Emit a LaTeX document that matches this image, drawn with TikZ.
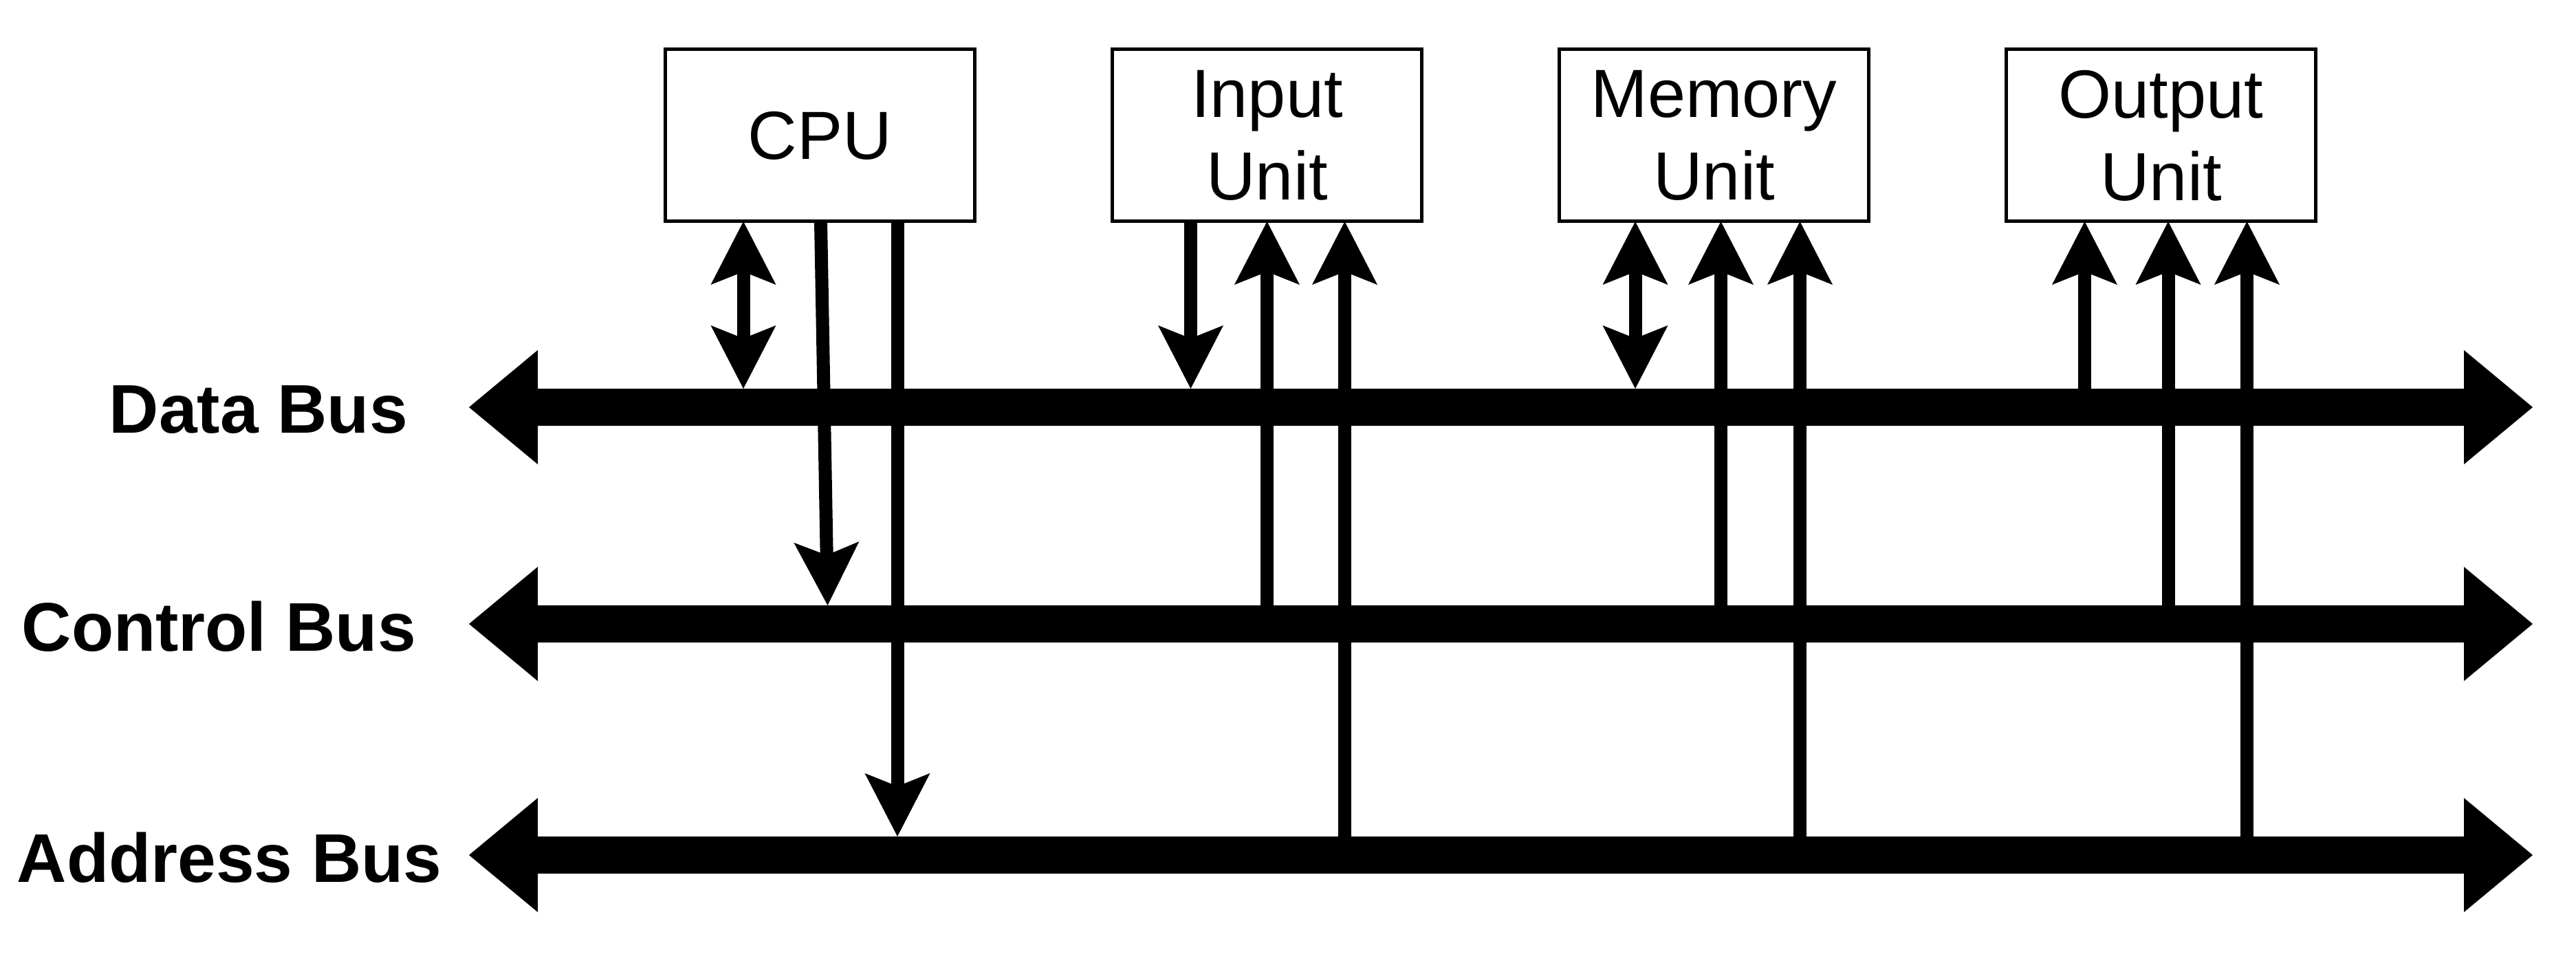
\documentclass[tikz,border=0pt]{standalone}
\usepackage{fontspec}
\setmainfont{Liberation Sans}
\usetikzlibrary{positioning,calc,arrows.meta}

\tikzset{
  unit/.style={draw, line width=0.05cm, outer sep=0pt, inner sep=0pt,
    minimum width=4.5cm, minimum height=2.5cm, align=center,
    font=\fontsize{28.2}{34.1}\selectfont},
  link/.style={line width=0.19cm,
    >={Stealth[length=9.2mm, width=9.5mm, inset=1.9mm, line width=0pt]}},
  bus/.style={line width=0.54cm,
    {Triangle[length=10mm, width=16.6mm, line width=0pt]}-{Triangle[length=10mm, width=16.6mm, line width=0pt]}},
  buslabel/.style={anchor=west, inner sep=0pt,
    font=\bfseries\fontsize{28.5}{33}\selectfont}
}

\begin{document}
\begin{tikzpicture}
  \useasboundingbox (0,0) rectangle (37.46,13.97);

  % Units
  \node[unit] (cpu) at (11.925,12) {CPU};
  \node[unit, right=2cm of cpu] (input) {Input\\Unit};
  \node[unit, right=2cm of input] (memory) {Memory\\Unit};
  \node[unit, right=2cm of memory] (output) {Output\\Unit};

  % Bus ends and top edges
  \coordinate (dataL) at (6.82,8.05);  \coordinate (dataR) at (36.83,8.05);
  \coordinate (ctrlL) at (6.82,4.90);  \coordinate (ctrlR) at (36.83,4.90);
  \coordinate (addrL) at (6.82,1.54);  \coordinate (addrR) at (36.83,1.54);
  \coordinate (dataT) at (6.82,8.32);
  \coordinate (ctrlT) at (6.82,5.17);
  \coordinate (addrT) at (6.82,1.81);

  % Buses
  \draw[bus] (dataL) -- (dataR);
  \draw[bus] (ctrlL) -- (ctrlR);
  \draw[bus] (addrL) -- (addrR);
  \node[buslabel] (datalabel) at (1.58,8.01) {Data Bus};
  \node[buslabel] (ctrllabel) at (0.31,4.86) {Control Bus};
  \node[buslabel] (addrlabel) at (0.24,1.50) {Address Bus};

  % Connector feet under the units
  \coordinate (cpuD) at ($(cpu.south west)+(1.135,0)$);
  \coordinate (cpuC) at ($(cpu.south west)+(2.26,0)$);
  \coordinate (cpuA) at ($(cpu.south west)+(3.375,0)$);
  \coordinate (inD) at ($(input.south west)+(1.14,0)$);
  \coordinate (inC) at ($(input.south west)+(2.25,0)$);
  \coordinate (inA) at ($(input.south west)+(3.38,0)$);
  \coordinate (memD) at ($(memory.south west)+(1.105,0)$);
  \coordinate (memC) at ($(memory.south west)+(2.35,0)$);
  \coordinate (memA) at ($(memory.south west)+(3.50,0)$);
  \coordinate (outD) at ($(output.south west)+(1.14,0)$);
  \coordinate (outC) at ($(output.south west)+(2.355,0)$);
  \coordinate (outA) at ($(output.south west)+(3.50,0)$);

  % CPU
  \draw[link, <->] (cpuD) -- (cpuD |- dataT);
  \draw[link, ->] (cpuC) -- ($(cpuC |- ctrlT)+(0.1,0)$);
  \draw[link, ->] (cpuA) -- (cpuA |- addrT);

  % Input unit
  \draw[link, ->] (inD) -- (inD |- dataT);
  \draw[link, <-] (inC) -- (inC |- ctrlL);
  \draw[link, <-] (inA) -- (inA |- addrL);

  % Memory unit
  \draw[link, <->] (memD) -- (memD |- dataT);
  \draw[link, <-] (memC) -- (memC |- ctrlL);
  \draw[link, <-] (memA) -- (memA |- addrL);

  % Output unit
  \draw[link, <-] (outD) -- (outD |- dataL);
  \draw[link, <-] (outC) -- (outC |- ctrlL);
  \draw[link, <-] (outA) -- (outA |- addrL);
\end{tikzpicture}
\end{document}
